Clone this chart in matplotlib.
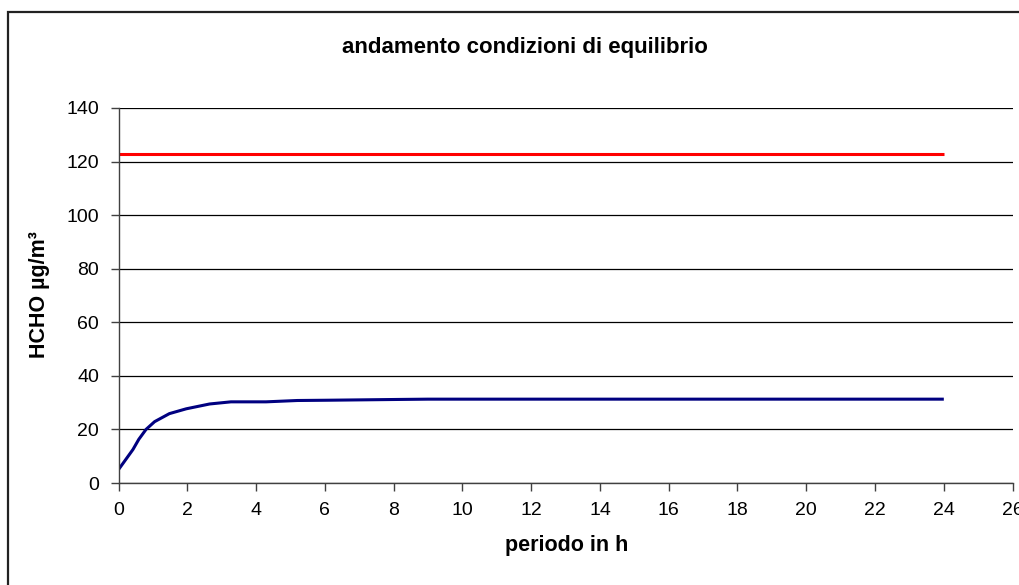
import matplotlib.pyplot as plt
from matplotlib.patches import Rectangle

plt.rcParams['font.family'] = ['Liberation Sans', 'DejaVu Sans']

# tempo (h) e concentrazione HCHO
ore = [0, 0.42, 0.59, 0.8, 1.05, 1.48, 1.97, 2.65, 3.27, 4.29, 5.2, 6.07, 8.2, 9, 24]
hcho = [5, 12.5, 16.3, 20, 22.9, 25.9, 27.7, 29.5, 30.3, 30.3, 30.8, 30.9, 31.2, 31.3, 31.3]
ore_eq = [0, 24]
hcho_eq = [122.8, 122.8]

fig = plt.figure(figsize=(10.19, 5.85), dpi=100)
ax = fig.add_axes([118.5/1019, 102/585, (1012.6-118.5)/1019, 375/585])

ax.plot(ore_eq, hcho_eq, color='#ff0000', linewidth=2.2, solid_capstyle='butt')
ax.plot(ore, hcho, color='#000080', linewidth=2.2, solid_capstyle='butt')

ax.set_xlim(0, 26)
ax.set_ylim(0, 140)
ax.set_xticks(range(0, 27, 2))
ax.set_yticks(range(0, 141, 20))
ax.yaxis.grid(True, color='black', linewidth=0.9)
ax.set_axisbelow(True)
for s in ['top', 'right']:
    ax.spines[s].set_visible(False)
for s in ['left', 'bottom']:
    ax.spines[s].set_color('#404040')
    ax.spines[s].set_linewidth(1.0)
ax.tick_params(axis='both', direction='out', length=6, width=1.0, color='#404040',
               labelsize=14, pad=8)

fig.text(525/1019, 1 - 47/585, 'andamento condizioni di equilibrio', ha='center', va='center',
         fontsize=16, fontweight='bold')
fig.text(567/1019, 1 - 545/585, 'periodo in h', ha='center', va='center',
         fontsize=15.5, fontweight='bold')
fig.text(40/1019, 1 - 295/585, 'HCHO µg/m³', ha='center', va='center', rotation=90,
         fontsize=15.5, fontweight='bold')

fig.patches.append(Rectangle((7.5/1019, -0.1), 1.2, 1 - 11.5/585 + 0.1, transform=fig.transFigure,
                             fill=False, edgecolor='#222222', linewidth=1.6, clip_on=False))

plt.savefig('out.png', dpi=100)
